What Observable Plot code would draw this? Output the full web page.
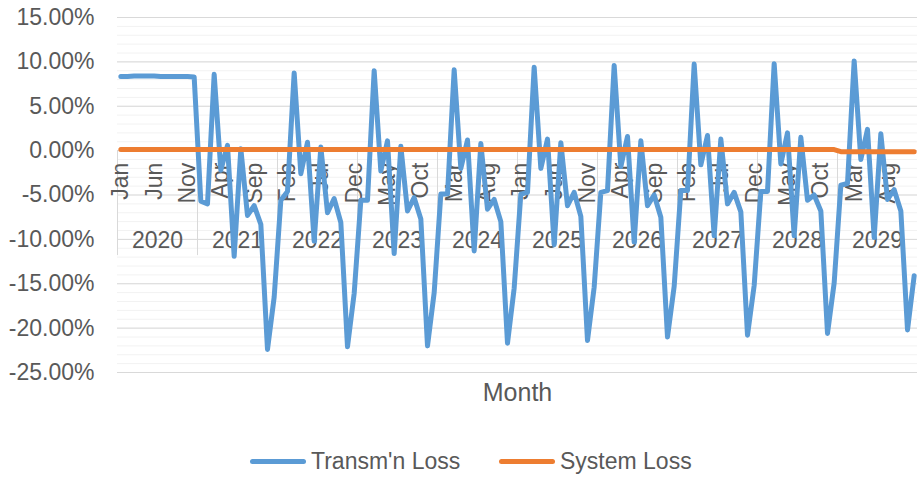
<!DOCTYPE html>
<html><head><meta charset="utf-8">
<script src="https://cdn.jsdelivr.net/npm/d3@7"></script>
<script src="https://cdn.jsdelivr.net/npm/@observablehq/plot@0.6"></script>
<style>
body{margin:0;background:#fff;font-family:"Liberation Sans",Arial,sans-serif;}
#legend{position:relative;height:42px;color:#595959;font-size:23px;width:917px;}
.item{position:absolute;top:0;height:42px;display:flex;align-items:center;white-space:nowrap;}
.sw{width:56px;height:5px;border-radius:3px;margin-right:5px;}
</style></head><body>
<div id="chart"></div>
<div id="legend"></div>
<script>
const years = [2020, 2021, 2022, 2023, 2024, 2025, 2026, 2027, 2028, 2029];
const monthNames = ["Jan","Feb","Mar","Apr","May","Jun","Jul","Aug","Sep","Oct","Nov","Dec"];
const seriesNames = ["Transm'n Loss", "System Loss"];
const seriesColors = ["#5B9BD5", "#ED7D31"];
const yTicks = [-25, -20, -15, -10, -5, 0, 5, 10, 15];
const axisTitle = "Month";

// Transm'n Loss (%), Jan 2020 .. Dec 2029
const transmLoss = [
  8.35, 8.35, 8.4, 8.4, 8.4, 8.4, 8.35, 8.35, 8.35, 8.35, 8.35, 8.3,
  -5.7, -6.0, 8.6, -2.2, 0.6, -11.9, 0.2, -7.3, -6.2, -8.3, -22.4, -16.5,
  -5.6, -4.6, 8.75, -2.6, 0.95, -10.2, 0.4, -7.0, -5.4, -8.1, -22.1, -16.1,
  -5.6, -5.6, 9.0, -2.3, 1.1, -11.6, 0.5, -6.8, -5.3, -7.7, -22.0, -16.0,
  -4.9, -4.9, 9.1, -2.0, 1.2, -11.3, 0.8, -6.6, -5.5, -8.0, -21.7, -15.5,
  -4.9, -4.7, 9.4, -2.0, 1.3, -10.6, 0.9, -6.2, -4.7, -7.4, -21.4, -15.4,
  -4.7, -4.5, 9.6, -1.8, 1.6, -10.3, 1.1, -6.2, -5.0, -7.5, -21.0, -15.3,
  -4.5, -4.5, 9.75, -1.6, 1.7, -9.6, 1.3, -6.0, -4.7, -6.9, -20.8, -15.2,
  -4.6, -4.6, 9.8, -1.5, 2.0, -9.6, 1.5, -5.6, -5.0, -6.8, -20.6, -14.9,
  -3.9, -3.7, 10.1, -1.0, 2.4, -9.8, 1.9, -5.5, -4.4, -6.8, -20.2, -14.1
];
// System Loss (%), Jan 2020 .. Dec 2029
const systemLoss = [
  0.12, 0.12, 0.12, 0.12, 0.12, 0.12, 0.12, 0.12, 0.12, 0.12, 0.12, 0.12,
  0.12, 0.12, 0.12, 0.12, 0.12, 0.12, 0.12, 0.12, 0.12, 0.12, 0.12, 0.12,
  0.12, 0.12, 0.12, 0.12, 0.12, 0.12, 0.12, 0.12, 0.12, 0.12, 0.12, 0.12,
  0.12, 0.12, 0.12, 0.12, 0.12, 0.12, 0.12, 0.12, 0.12, 0.12, 0.12, 0.12,
  0.12, 0.12, 0.12, 0.12, 0.12, 0.12, 0.12, 0.12, 0.12, 0.12, 0.12, 0.12,
  0.12, 0.12, 0.12, 0.12, 0.12, 0.12, 0.12, 0.12, 0.12, 0.12, 0.12, 0.12,
  0.12, 0.12, 0.12, 0.12, 0.12, 0.12, 0.12, 0.12, 0.12, 0.12, 0.12, 0.12,
  0.12, 0.12, 0.12, 0.12, 0.12, 0.12, 0.12, 0.12, 0.12, 0.12, 0.12, 0.12,
  0.12, 0.12, 0.12, 0.12, 0.12, 0.12, 0.12, 0.12, 0.12, 0.12, 0.12, 0.12,
  -0.12, -0.12, -0.12, -0.12, -0.12, -0.12, -0.12, -0.12, -0.12, -0.12, -0.12, -0.12
];

const nMonths = years.length * 12;
const data = transmLoss.map((v, i) => ({i, t: v, s: systemLoss[i]}));
const labelIdx = d3.range(0, nMonths, 5);
const yearBounds = d3.range(0, nMonths + 1, 12);
const minorTicks = d3.range(-25, 15.0001, 1);

const chart = Plot.plot({
  width: 917, height: 440,
  marginLeft: 117, marginRight: 0, marginTop: 17, marginBottom: 68,
  x: {domain: [0, nMonths], axis: null},
  y: {domain: [-25, 15], ticks: yTicks, tickFormat: d => d.toFixed(2) + "%", tickSize: 0, tickPadding: 23, label: null},
  style: {fontFamily: '"Liberation Sans", Arial, sans-serif', fontSize: "23px", color: "#595959", background: "#fff", overflow: "visible"},
  marks: [
    Plot.ruleY(minorTicks, {stroke: "#F2F2F2", strokeWidth: 1}),
    Plot.ruleY(yTicks, {stroke: "#D9D9D9", strokeWidth: 1}),
    Plot.ruleX(yearBounds, {y1: 0, y2: 0, insetBottom: -105, stroke: "#D9D9D9", strokeWidth: 1}),
    Plot.text(labelIdx, {x: i => i + 0.5, y: 0, text: i => monthNames[i % 12], rotate: -90, textAnchor: "end", dy: 12, fill: "#595959"}),
    Plot.text(years, {x: (d, k) => k * 12 + 6, y: 0, text: d => String(d), dy: 90, fill: "#595959"}),
    Plot.text([axisTitle], {frameAnchor: "bottom", dy: 28, fill: "#595959", fontSize: 25}),
    Plot.line(data, {x: d => d.i + 0.5, y: "t", stroke: seriesColors[0], strokeWidth: 5, strokeLinejoin: "round", strokeLinecap: "round"}),
    Plot.line(data, {x: d => d.i + 0.5, y: "s", stroke: seriesColors[1], strokeWidth: 5, strokeLinejoin: "round", strokeLinecap: "round"})
  ]
});
document.getElementById("chart").appendChild(chart);

const legend = document.getElementById("legend");
const legendLeft = [250, 499];
seriesNames.forEach((name, k) => {
  const item = document.createElement("div");
  item.className = "item";
  item.style.left = legendLeft[k] + "px";
  const sw = document.createElement("span");
  sw.className = "sw";
  sw.style.background = seriesColors[k];
  const tx = document.createElement("span");
  tx.textContent = name;
  item.appendChild(sw); item.appendChild(tx);
  legend.appendChild(item);
});
</script>
</body></html>
